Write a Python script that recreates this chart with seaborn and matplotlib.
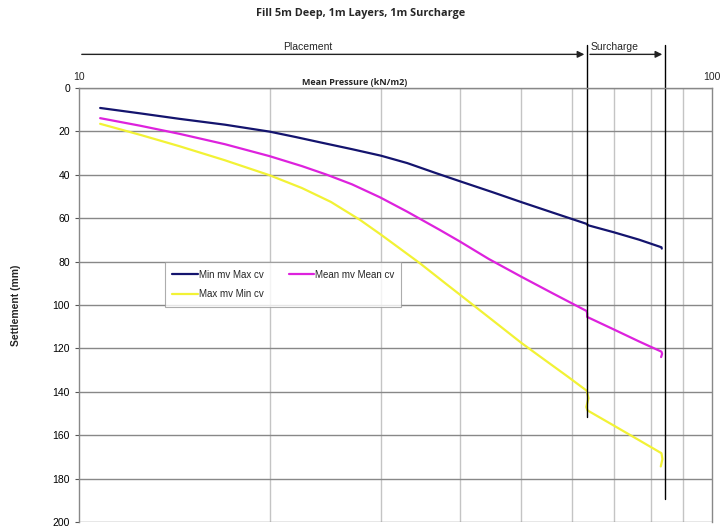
import pandas as pd
import matplotlib
matplotlib.use("Agg")
import matplotlib.pyplot as plt
import seaborn as sns

# data (pressure kN/m2, settlement mm)
series_names = ["Min mv Max cv", "Mean mv Mean cv", "Max mv Min cv"]

p_min = [10.8, 12.5, 14.4, 17, 20, 22, 24, 27, 30, 33, 36.7, 40, 45, 50, 56, 63.5, 63.6, 70, 76.7, 83.2, 83.3]
s_min = [9.2, 11.7, 14.2, 16.9, 20.1, 22.6, 25.0, 28.2, 31.2, 34.6, 39.3, 43.0, 48.0, 52.6, 57.4, 62.7, 63.2, 66.5,
         69.9, 73.4, 74.0]

p_mean = [10.8, 12.5, 14.4, 17, 20, 22.5, 24.6, 27, 29.9, 33, 37.1, 40, 44.4, 50, 56, 63.4, 63.5, 63.5,
          70, 76.7, 83.2, 83.4, 83.1]
s_mean = [13.9, 17.4, 21.1, 25.9, 31.4, 36.0, 39.9, 44.4, 50.4, 57.0, 65.3, 70.8, 78.8, 87.0, 94.6, 102.8, 104.0, 105.5,
          111.3, 116.8, 121.5, 122.5, 124.0]

p_max = [10.8, 12.5, 14.4, 17, 20, 22.5, 25, 27.8, 30, 32, 34.5, 38.1, 40, 45, 50, 53.3, 59.3, 63.4, 63.8, 63.3, 63.6,
         70, 76.7, 83.2, 83.5, 83.0]
s_max = [16.5, 21.6, 26.8, 33.3, 40.2, 46.1, 52.5, 60.8, 67.6, 73.6, 80.6, 90.5, 95.3, 107.0, 117.5, 123.4, 133.2,
         139.5, 143.0, 147.0, 148.6, 155.6, 162.3, 168.3, 171.0, 174.4]

end_placement = 63.5
end_surcharge = 84.3

colors = ["#14146e", "#dd22dd", "#f2f235"]

frames = []
for name, p, s in zip(series_names, [p_min, p_mean, p_max], [s_min, s_mean, s_max]):
    d = pd.DataFrame({"pressure": p, "settlement": s})
    d["series"] = name
    frames.append(d)
df = pd.concat(frames, ignore_index=True)

sns.set_style("white")
plt.rcParams["font.family"] = ["Liberation Sans", "DejaVu Sans"]

fig = plt.figure(figsize=(7.21, 5.28), dpi=100)
ax = fig.add_axes([79 / 721, 6 / 528, 633 / 721, 434 / 528])

sns.lineplot(data=df, x="pressure", y="settlement", hue="series", hue_order=series_names,
             palette=colors, sort=False, estimator=None, units="series", linewidth=1.6, ax=ax)

ax.set_xscale("log")
ax.set_xlim(10, 100)
ax.set_ylim(200, 0)
ax.set_yticks(range(0, 201, 20))
ax.tick_params(axis="y", labelsize=7.5, length=3, direction="out", left=True, colors="#555555", labelcolor="black")

ax.xaxis.tick_top()
ax.set_xticks([10, 100])
ax.set_xticklabels(["10", "100"])
ax.tick_params(axis="x", which="both", top=False, bottom=False, labelsize=7.5, pad=1)
ax.set_xticks([20, 30, 40, 50, 60, 70, 80, 90], minor=True)
ax.xaxis.set_minor_formatter(matplotlib.ticker.NullFormatter())

ax.grid(axis="y", which="major", color="#888888", linewidth=1.0)
ax.grid(axis="x", which="minor", color="#c4c4c4", linewidth=1.0)
for side in ["left", "top", "right"]:
    ax.spines[side].set_color("#888888")
    ax.spines[side].set_linewidth(1.0)
ax.spines["bottom"].set_visible(False)

ax.xaxis.set_label_position("top")
ax.set_xlabel("Mean Pressure (kN/m2)", fontsize=6.5, fontweight="bold", family="Open Sans")
ax.xaxis.set_label_coords(0.435, 1.008)
ax.set_ylabel("Settlement (mm)", fontsize=7.5, fontweight="bold")
ax.yaxis.set_label_coords(-0.092, 0.5)

# placement / surcharge markers
ax.plot([end_placement, end_placement], [-20, 151.8], color="black", linewidth=1.0, clip_on=False)
ax.plot([end_surcharge, end_surcharge], [-20, 189.5], color="black", linewidth=1.0, clip_on=False)
ax.annotate("", xy=(end_placement, -15.5), xytext=(10, -15.5), annotation_clip=False,
            arrowprops=dict(arrowstyle="-|>", color="#222222", lw=1.0, mutation_scale=10))
ax.annotate("", xy=(end_surcharge, -15.5), xytext=(end_placement, -15.5), annotation_clip=False,
            arrowprops=dict(arrowstyle="-|>", color="#222222", lw=1.0, mutation_scale=10))
ax.text(23.0, -16.6, "Placement", fontsize=7.5, ha="center", va="bottom")
ax.text(64.2, -16.6, "Surcharge", fontsize=7.5, ha="left", va="bottom")

handles, labels = ax.get_legend_handles_labels()
order = [0, 2, 1]
leg = ax.legend([handles[i] for i in order], [labels[i] for i in order], ncol=2,
                loc="upper left", bbox_to_anchor=(0.136, 0.598), borderaxespad=0,
                fontsize=7, handlelength=2.6, handletextpad=0.1, columnspacing=2.6,
                labelspacing=1.0, borderpad=0.75,
                frameon=True, fancybox=False, shadow=False, edgecolor="#999999")
leg.get_frame().set_linewidth(0.8)

fig.suptitle("Fill 5m Deep, 1m Layers, 1m Surcharge", y=0.985, fontsize=7.8,
             fontweight="bold", family="Open Sans")

fig.savefig("out.png", dpi=100)
